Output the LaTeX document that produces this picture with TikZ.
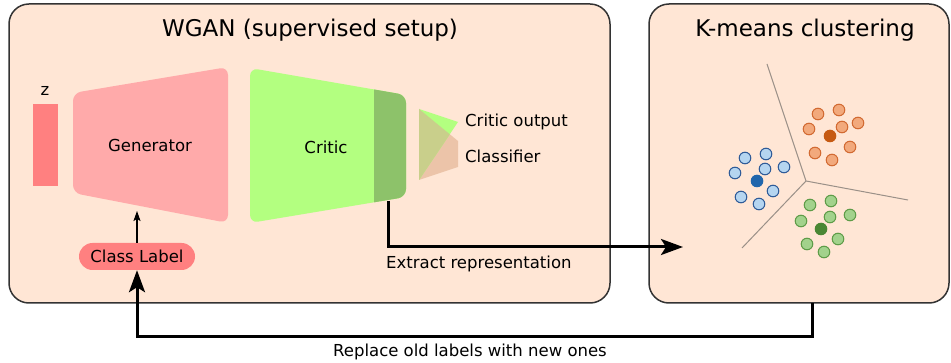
\documentclass[tikz,border=0pt]{standalone}
\usepackage{fontspec}
\setmainfont{DejaVu Sans}
\usetikzlibrary{arrows.meta}
\definecolor{panelfill}{HTML}{FFE6D5}
\definecolor{panelline}{HTML}{333333}
\definecolor{zred}{HTML}{FF8080}
\definecolor{genpink}{HTML}{FFAAAA}
\definecolor{criticgreen}{HTML}{B3FF80}
\definecolor{reprgreen}{HTML}{8DC26A}
\definecolor{clssalmon}{HTML}{ECC4A9}
\definecolor{overlap}{HTML}{C9CF8B}
\definecolor{vorgray}{HTML}{9A9088}
\definecolor{bluefill}{HTML}{B5D5F0}
\definecolor{blueline}{HTML}{2F5B98}
\definecolor{bluemean}{HTML}{2166AC}
\definecolor{orangefill}{HTML}{F2A97C}
\definecolor{orangeline}{HTML}{D26A32}
\definecolor{orangemean}{HTML}{C65A12}
\definecolor{greenfill}{HTML}{A2D28C}
\definecolor{greenline}{HTML}{5E9C48}
\definecolor{greenmean}{HTML}{4A8734}
\tikzset{
    panel/.style={draw=panelline, fill=panelfill, line width=1.5pt, rounded corners=20pt},
    titletext/.style={font=\fontsize{23}{28}\selectfont},
    smalltext/.style={font=\fontsize{16.5}{20}\selectfont, inner sep=0pt},
    labelbox/.style={fill=zred, rounded corners=13.5pt, minimum width=116pt, minimum height=27pt, inner sep=0pt, font=\fontsize{16.5}{20}\selectfont},
    flowline/.style={line width=3pt, -{Stealth[length=22pt,width=16pt,inset=5pt]}},
    thinarrow/.style={line width=1.4pt, -{Stealth[length=10pt,width=7pt,inset=2pt]}},
    voronoi/.style={draw=vorgray, line width=1pt},
}
\begin{document}
\begin{tikzpicture}[x=1pt,y=-1pt]
        \useasboundingbox (0,0) rectangle (951,363);
        % panels
        \draw[panel] (9,4) rectangle (610,303);
        \draw[panel] (649,4) rectangle (949,303);
        \node[titletext] (wgantitle) at (310,30) {WGAN (supervised setup)};
        \node[titletext] (kmtitle) at (805,30) {K-means clustering};
        % noise and generator
        \fill[zred] (33,104) rectangle (58,186);
        \node[smalltext] (zlabel) at (45,91) {z};
        \fill[genpink, rounded corners=8pt] (73,93) -- (228,67) -- (228,223) -- (73,193) -- cycle;
        \node[smalltext] (gen) at (150,145) {Generator};
        \coordinate (genbottom) at (137,211);
        \node[labelbox] (classlabel) at (137,256.5) {Class Label};
        \draw[thinarrow] (classlabel.north) -- (genbottom);
        % critic with representation layer
        \begin{scope}
            \clip[rounded corners=8pt] (250,68) -- (406,95) -- (406,197) -- (250,223) -- cycle;
            \fill[criticgreen] (240,60) rectangle (420,230);
            \fill[reprgreen] (374,60) rectangle (420,230);
        \end{scope}
        \node[smalltext] (critic) at (326,147) {Critic};
        % output heads
        \fill[clssalmon] (419,109) -- (458,141) -- (458,167) -- (419,180) -- cycle;
        \fill[criticgreen] (419,109) -- (458,122) -- (419,180) -- cycle;
        \fill[overlap] (419,109) -- (449.8,134.3) -- (419,180) -- cycle;
        \node[smalltext, anchor=west] (critout) at (465,122) {Critic output};
        \node[smalltext, anchor=west] (classifier) at (465,156) {Classifier};
        % clustering
        \coordinate (vc) at (806,181);
        \draw[voronoi] (vc) -- (767,64);
        \draw[voronoi] (vc) -- (908,200);
        \draw[voronoi] (vc) -- (742,248);
        \foreach \px/\py in {818/114, 839/110, 809/129, 842/127, 858/123, 815/153, 832/160, 850/147}
            \draw[orangeline, fill=orangefill, line width=1pt] (\px,\py) circle[radius=5.8pt];
        \foreach \px/\py in {745/158, 766/154, 735/173, 765/169, 784/167, 741/197, 773/191, 759/204}
            \draw[blueline, fill=bluefill, line width=1pt] (\px,\py) circle[radius=5.8pt];
        \foreach \px/\py in {810/205, 831/201, 801/221, 830/217, 850/215, 807/244, 838/239, 824/252}
            \draw[greenline, fill=greenfill, line width=1pt] (\px,\py) circle[radius=5.8pt];
        \fill[orangemean] (830,136) circle[radius=6.3pt];
        \fill[bluemean] (757,181) circle[radius=6.3pt];
        \fill[greenmean] (821,229) circle[radius=6.3pt];
        % connectors
        \coordinate (reprout) at (388,201);
        \coordinate (kmin) at (683,247);
        \coordinate (kmout) at (812,303);
        \coordinate (loopcorner) at (812,337);
        \draw[flowline] (reprout) |- (kmin);
        \node[smalltext, anchor=west] (extract) at (386,264) {Extract representation};
        \draw[flowline] (kmout) -- (loopcorner) -| (classlabel.south);
        \node[smalltext] (replace) at (470,352) {Replace old labels with new ones};
    \end{tikzpicture}
\end{document}
